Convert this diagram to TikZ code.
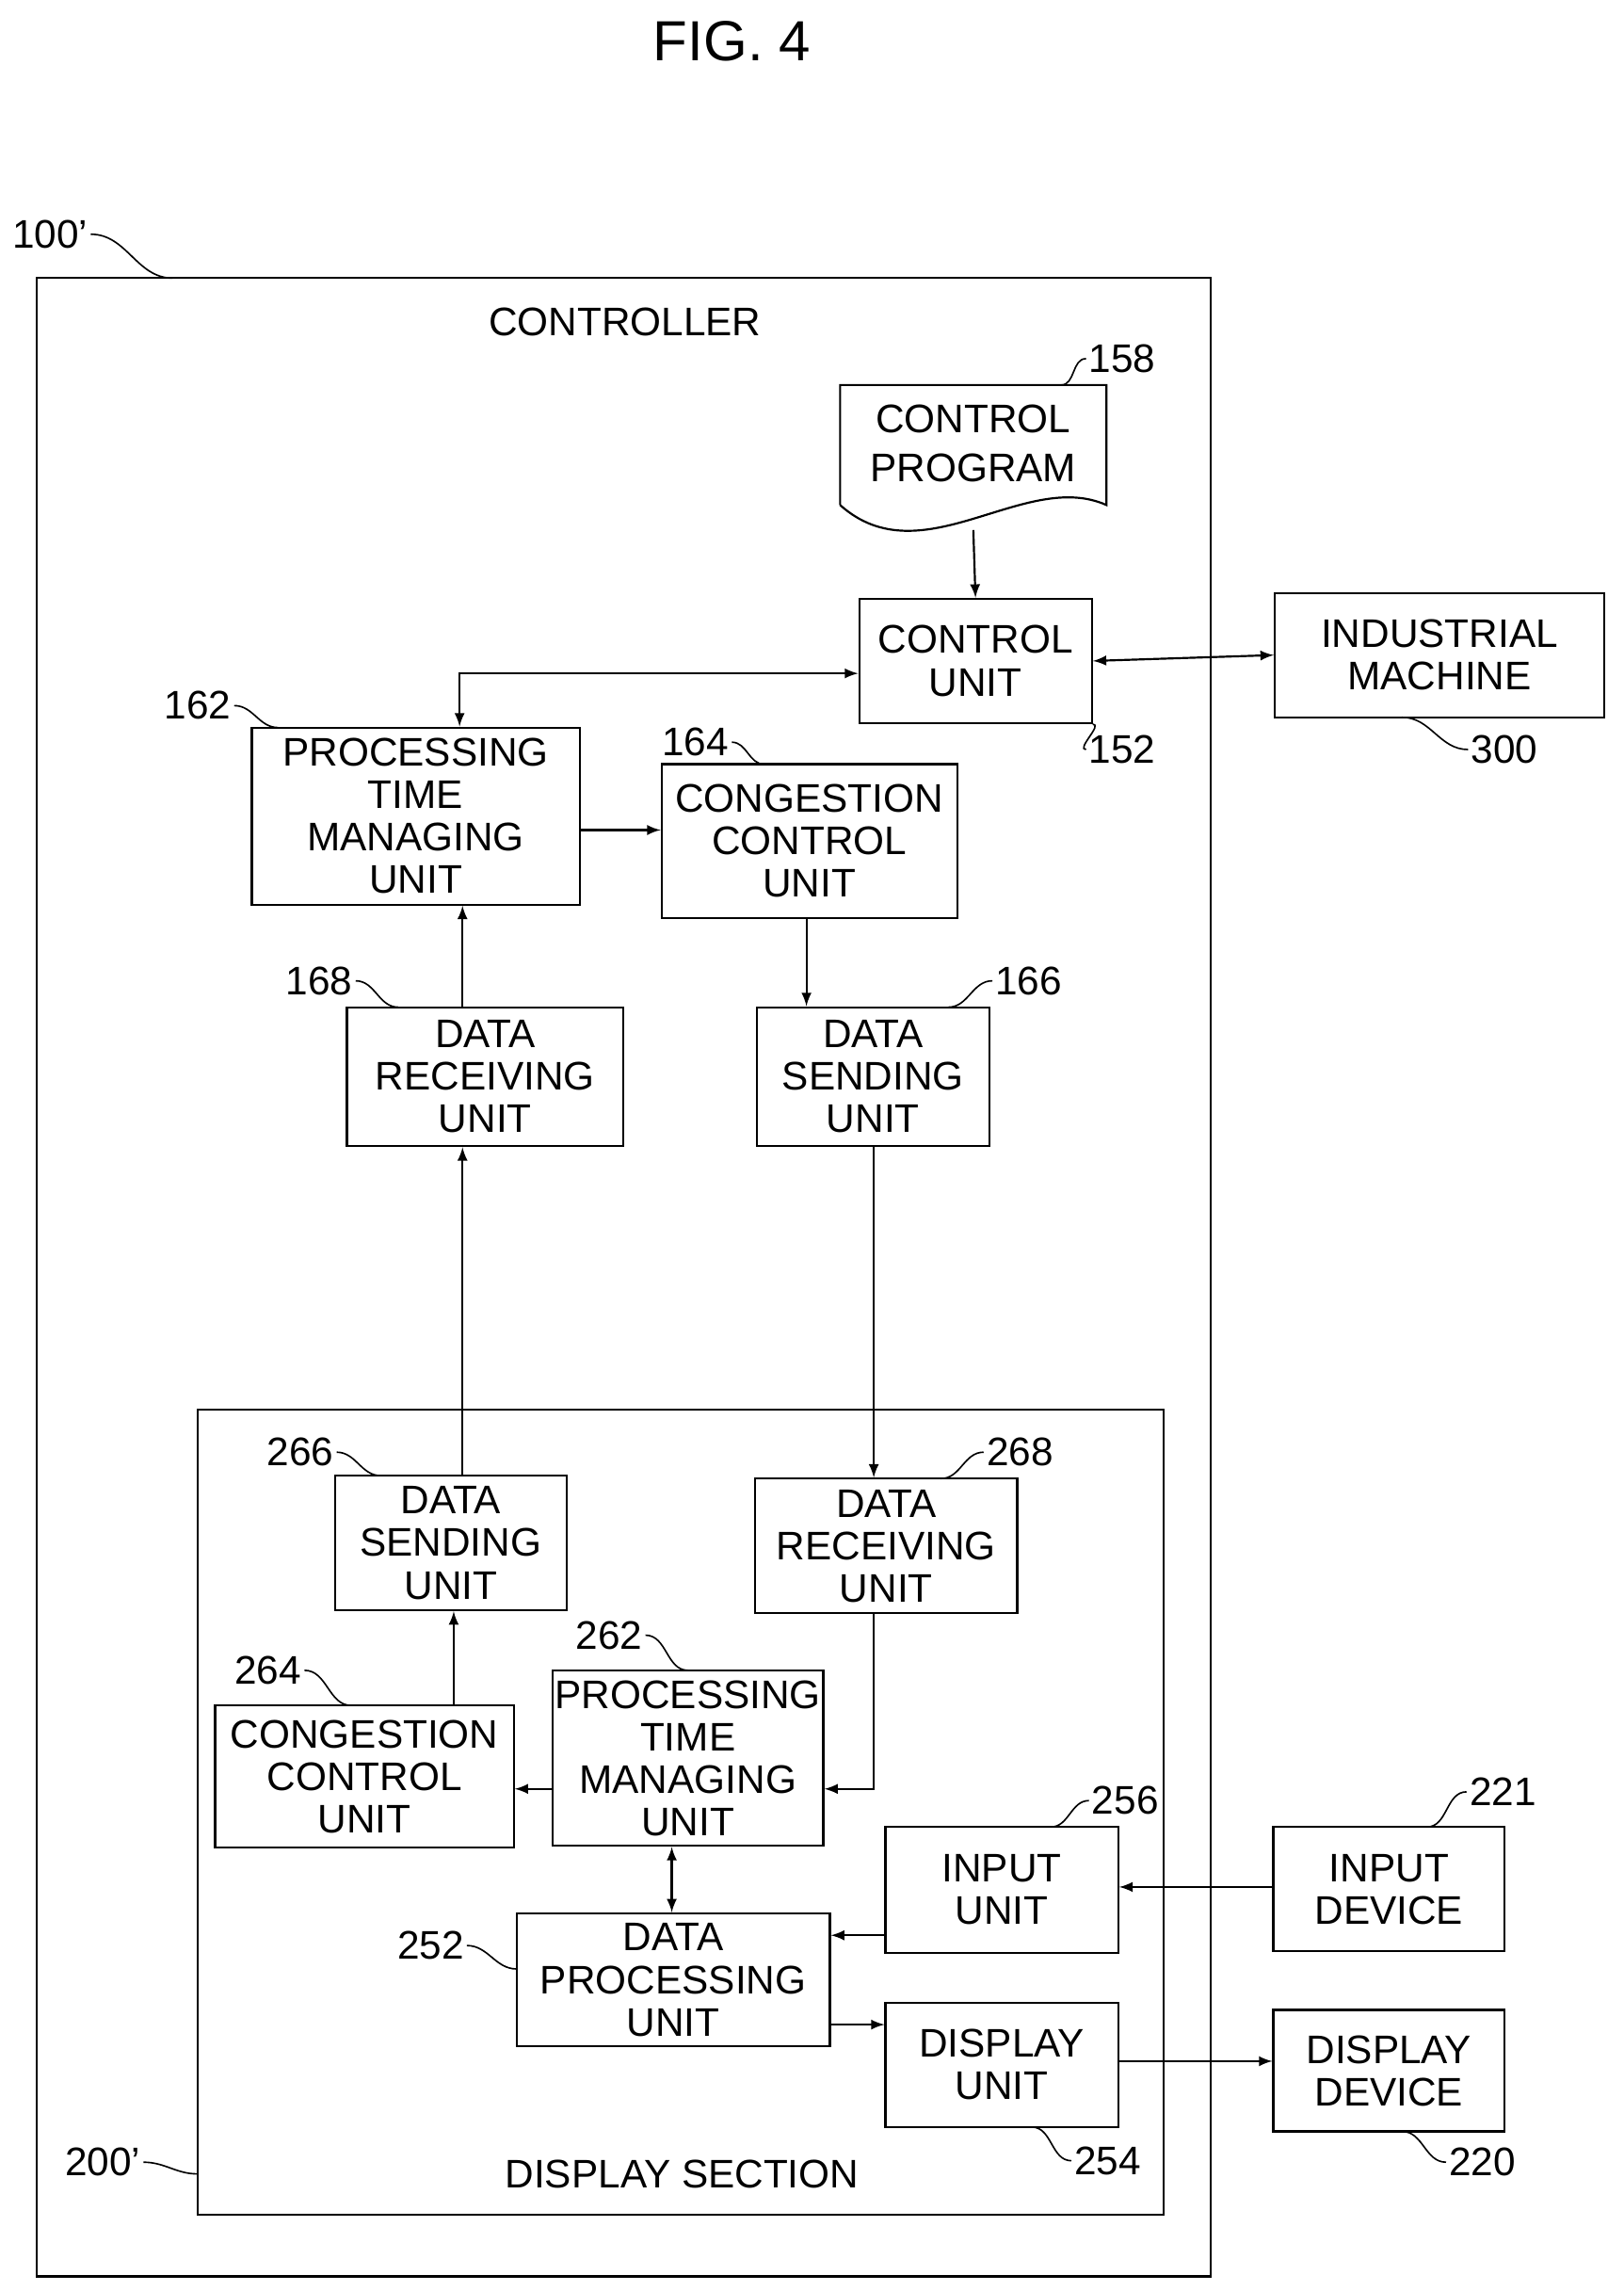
\documentclass[tikz,border=0pt]{standalone}
\usepackage{fontspec}
\setmainfont{Liberation Sans}
\usetikzlibrary{positioning, calc}

\tikzset{
  blk/.style={draw, line width=0.8pt, align=center, inner sep=1pt, font=\fontsize{15.5}{16.5}\selectfont},
  ref/.style={font=\fontsize{15.5}{16.5}\selectfont, inner sep=1pt},
  lead/.style={line width=0.6pt},
  conn/.style={line width=0.8pt, -latex},
  both/.style={line width=0.8pt, latex-latex}
}

\begin{document}
\begin{tikzpicture}[x=0.02cm, y=-0.02cm]
\useasboundingbox (0,0) rectangle (1109,1565);

\node[font=\fontsize{22}{24}\selectfont] (title) at (500,28) {FIG. 4};

% outer frames
\draw[line width=0.8pt] (25,190) rectangle (827,1555);
\node[ref] (ctl) at (427,220) {CONTROLLER};
\draw[line width=0.8pt] (135,963) rectangle (795,1513);
\node[ref] (dsec) at (466,1485) {DISPLAY SECTION};

% control program (document)
\node[align=center, font=\fontsize{15.5}{19}\selectfont] (doc158) at (665,303) {CONTROL\\PROGRAM};
\draw[line width=0.8pt] (574,345) -- (574,263) -- (756,263) -- (756,345)
  .. controls (700,320) and (630,395) .. (574,345);
\coordinate (docb) at (665,362);

% blocks
\node[blk, minimum width=3.18cm, minimum height=1.7cm] (cu152) at (666.5,451.5) {CONTROL\\UNIT};
\node[blk, minimum width=4.5cm, minimum height=1.7cm] (im300) at (983.5,447.5) {INDUSTRIAL\\MACHINE};
\node[blk, minimum width=4.48cm, minimum height=2.42cm] (ptm162) at (284,557.5) {PROCESSING\\TIME\\MANAGING\\UNIT};
\node[blk, minimum width=4.04cm, minimum height=2.1cm] (cc164) at (553,574.5) {CONGESTION\\CONTROL\\UNIT};
\node[blk, minimum width=3.78cm, minimum height=1.9cm] (dr168) at (331.5,735.5) {DATA\\RECEIVING\\UNIT};
\node[blk, minimum width=3.18cm, minimum height=1.9cm] (ds166) at (596.5,735.5) {DATA\\SENDING\\UNIT};
\node[blk, minimum width=3.16cm, minimum height=1.84cm] (ds266) at (308,1054) {DATA\\SENDING\\UNIT};
\node[blk, minimum width=3.58cm, minimum height=1.84cm] (dr268) at (605.5,1056) {DATA\\RECEIVING\\UNIT};
\node[blk, minimum width=4.08cm, minimum height=1.94cm] (cc264) at (249,1213.5) {CONGESTION\\CONTROL\\UNIT};
\node[blk, minimum width=3.68cm, minimum height=2.4cm] (ptm262) at (470,1201) {PROCESSING\\TIME\\MANAGING\\UNIT};
\node[blk, minimum width=3.18cm, minimum height=1.72cm] (iu256) at (684.5,1291) {INPUT\\UNIT};
\node[blk, minimum width=4.28cm, minimum height=1.82cm] (dp252) at (460,1352.5) {DATA\\PROCESSING\\UNIT};
\node[blk, minimum width=3.18cm, minimum height=1.7cm] (du254) at (684.5,1410.5) {DISPLAY\\UNIT};
\node[blk, minimum width=3.16cm, minimum height=1.7cm] (id221) at (949,1290.5) {INPUT\\DEVICE};
\node[blk, minimum width=3.16cm, minimum height=1.66cm] (dd220) at (949,1414.5) {DISPLAY\\DEVICE};

% helper coordinates
\coordinate (x314) at (314,0);
\coordinate (x316) at (316,0);
\coordinate (x551) at (551,0);
\coordinate (x597) at (597,0);
\coordinate (x310) at (310,0);
\coordinate (x459) at (459,0);
\coordinate (y460) at (0,460);
\coordinate (y567) at (0,567);
\coordinate (y1222) at (0,1222);
\coordinate (y1289) at (0,1289);
\coordinate (y1322) at (0,1322);
\coordinate (y1383) at (0,1383);
\coordinate (y1408) at (0,1408);

% connectors
\draw[conn] (docb) -- (cu152.north);
\draw[both] (cu152.east) -- (im300.west);
\draw[both] (ptm162.north -| x314) |- (cu152.west |- y460);
\draw[conn] (ptm162.east |- y567) -- (cc164.west |- y567);
\draw[conn] (cc164.south -| x551) -- (ds166.north -| x551);
\draw[conn] (dr168.north -| x316) -- (ptm162.south -| x316);
\draw[conn] (ds266.north -| x316) -- (dr168.south -| x316);
\draw[conn] (ds166.south -| x597) -- (dr268.north -| x597);
\draw[conn] (dr268.south -| x597) |- (ptm262.east |- y1222);
\draw[conn] (ptm262.west |- y1222) -- (cc264.east |- y1222);
\draw[conn] (cc264.north -| x310) -- (ds266.south -| x310);
\draw[both] (ptm262.south -| x459) -- (dp252.north -| x459);
\draw[conn] (id221.west |- y1289) -- (iu256.east |- y1289);
\draw[conn] (iu256.west |- y1322) -- (dp252.east |- y1322);
\draw[conn] (dp252.east |- y1383) -- (du254.west |- y1383);
\draw[conn] (du254.east |- y1408) -- (dd220.west |- y1408);

% reference numerals
\node[ref, anchor=east] (l100) at (62,160) {100'};
\draw[lead] (l100.east) to[out=0,in=180] (118,190);
\node[ref, anchor=east] (l200) at (98,1477) {200'};
\draw[lead] (l200.east) to[out=0,in=180] (135,1485);
\node[ref, anchor=west] (l158) at (742,245) {158};
\draw[lead] (l158.west) to[out=180,in=0] (725,263);
\node[ref, anchor=west] (l152) at (742,512) {152};
\draw[lead] (l152.west) to[out=180,in=0] (cu152.south east);
\node[ref, anchor=west] (l300) at (1003,512) {300};
\draw[lead] (l300.west) to[out=180,in=0] (958,490);
\node[ref, anchor=east] (l162) at (160,482) {162};
\draw[lead] (l162.east) to[out=0,in=180] (190,497);
\node[ref, anchor=east] (l164) at (500,507) {164};
\draw[lead] (l164.east) to[out=0,in=180] (522,522);
\node[ref, anchor=east] (l168) at (243,670) {168};
\draw[lead] (l168.east) to[out=0,in=180] (272,688);
\node[ref, anchor=west] (l166) at (678,670) {166};
\draw[lead] (l166.west) to[out=180,in=0] (648,688);
\node[ref, anchor=east] (l266) at (230,992) {266};
\draw[lead] (l266.east) to[out=0,in=180] (260,1008);
\node[ref, anchor=west] (l268) at (672,992) {268};
\draw[lead] (l268.west) to[out=180,in=0] (643,1010);
\node[ref, anchor=east] (l264) at (208,1141) {264};
\draw[lead] (l264.east) to[out=0,in=180] (240,1165);
\node[ref, anchor=east] (l262) at (441,1117) {262};
\draw[lead] (l262.east) to[out=0,in=180] (470,1141);
\node[ref, anchor=west] (l256) at (744,1230) {256};
\draw[lead] (l256.west) to[out=180,in=0] (718,1248);
\node[ref, anchor=east] (l252) at (319,1329) {252};
\draw[lead] (l252.east) to[out=0,in=180] (353,1345);
\node[ref, anchor=west] (l254) at (732,1476) {254};
\draw[lead] (l254.west) to[out=180,in=0] (705,1453);
\node[ref, anchor=west] (l221) at (1002,1224) {221};
\draw[lead] (l221.west) to[out=180,in=0] (975,1248);
\node[ref, anchor=west] (l220) at (988,1477) {220};
\draw[lead] (l220.west) to[out=180,in=0] (958,1456);
\end{tikzpicture}
\end{document}
